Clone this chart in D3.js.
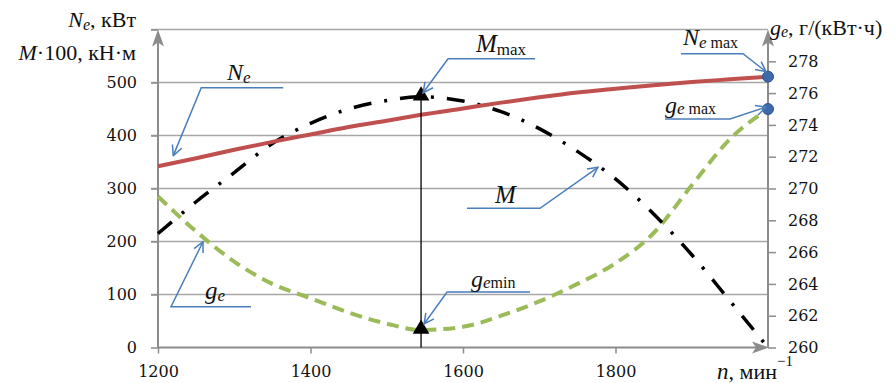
<!DOCTYPE html>
<html>
<head>
<meta charset="utf-8">
<script src="https://cdn.jsdelivr.net/npm/d3@7"></script>
<style>
  body { margin: 0; background: #fff; }
  svg { display: block; }
  .tick text { font-family: "DejaVu Serif", serif; font-size: 16px; fill: #111; }
  .lbl { font-family: "Liberation Serif", serif; fill: #111; }
</style>
</head>
<body>
<svg width="896" height="383"></svg>
<script>
// speed, min^-1
var nVals = [1200, 1250, 1300, 1350, 1400, 1450, 1500, 1545, 1600, 1650, 1700, 1750, 1800, 1850, 1900, 1950, 2000];
// power Ne, kW
var neVals = [342, 357, 373, 388, 402, 416, 428, 439, 451, 462, 472, 481, 488, 495, 501, 506, 511];
// torque M*100, kN*m
var mVals = [215, 275, 330, 385, 423, 450, 466, 473, 465, 445, 413, 370, 318, 252, 175, 88, 0];
// specific consumption ge, g/(kWh)
var geVals = [269.5, 267.3, 265.4, 264.0, 263.1, 262.2, 261.5, 261.1, 261.3, 262.0, 262.9, 264.0, 265.3, 267.2, 270.2, 273.1, 275.0];

var xTicks = [1200, 1400, 1600, 1800];
var leftTicks = [0, 100, 200, 300, 400, 500, 600];
var rightTicks = [260, 262, 264, 266, 268, 270, 272, 274, 276, 278];

var nOpt = 1545, nMax = 2000;

var svg = d3.select("svg");
var pLeft = 158, pRight = 768, pTop = 29.5, pBottom = 347.5;

var x = d3.scaleLinear().domain([1200, 2000]).range([pLeft, pRight]);
var yL = d3.scaleLinear().domain([0, 600]).range([pBottom, pTop]);
var yR = d3.scaleLinear().domain([260, 280]).range([pBottom, pTop]);

var gridColor = "#a6a6a6", axisColor = "#8c8c8c", blue = "#4a7ebb";

// arrow markers
var defs = svg.append("defs");
defs.append("marker")
    .attr("id", "arr")
    .attr("viewBox", "0 0 12 12")
    .attr("refX", 11).attr("refY", 6)
    .attr("markerWidth", 12).attr("markerHeight", 12)
    .attr("markerUnits", "userSpaceOnUse")
    .attr("orient", "auto")
  .append("path")
    .attr("d", "M1,1 L11,6 L1,11")
    .attr("fill", "none")
    .attr("stroke", blue)
    .attr("stroke-width", 1.5);

// grid lines
svg.append("g")
    .selectAll("line")
    .data(leftTicks.slice(1))
    .enter().append("line")
    .attr("x1", pLeft - 7).attr("x2", pRight)
    .attr("y1", function(d) { return yL(d); })
    .attr("y2", function(d) { return yL(d); })
    .attr("stroke", gridColor)
    .attr("stroke-width", 1.5);

// left axis
var gl = svg.append("g")
    .attr("transform", "translate(" + pLeft + ",0)")
    .call(d3.axisLeft(yL).tickValues(leftTicks).tickSize(7).tickPadding(14)
        .tickFormat(function(d) { return d == 600 ? "" : d; }));
// right axis
var gr = svg.append("g")
    .attr("transform", "translate(" + pRight + ",0)")
    .call(d3.axisRight(yR).tickValues(rightTicks).tickSize(8).tickPadding(12)
        .tickFormat(d3.format("d")));
// bottom axis
var gb = svg.append("g")
    .attr("transform", "translate(0," + pBottom + ")")
    .call(d3.axisBottom(x).tickValues(xTicks).tickSize(6).tickPadding(12)
        .tickFormat(d3.format("d")));

[gl, gr, gb].forEach(function(g) {
    g.select(".domain").remove();
    g.selectAll(".tick line").attr("stroke", axisColor).attr("stroke-width", 1.5);
});

// axis lines with arrows
svg.append("line").attr("x1", pLeft).attr("x2", pLeft).attr("y1", pBottom).attr("y2", pTop + 10)
    .attr("stroke", axisColor).attr("stroke-width", 2);
svg.append("line").attr("x1", pRight).attr("x2", pRight).attr("y1", pBottom).attr("y2", pTop + 10)
    .attr("stroke", axisColor).attr("stroke-width", 2);
svg.append("line").attr("x1", pLeft).attr("x2", pRight - 10).attr("y1", pBottom).attr("y2", pBottom)
    .attr("stroke", axisColor).attr("stroke-width", 2);
function head(px, py, dir) {
    var p;
    if (dir == "up") p = [[px, py], [px - 6, py + 17], [px, py + 13], [px + 6, py + 17]];
    else p = [[px, py], [px - 17, py - 6], [px - 13, py], [px - 17, py + 6]];
    svg.append("path").attr("d", "M" + p.join("L") + "Z").attr("fill", axisColor);
}
head(pLeft, pTop, "up");
head(pRight, pTop, "up");
head(pRight + 1, pBottom, "right");

// curves
var lineL = d3.line().x(function(d, i) { return x(nVals[i]); })
    .y(function(d) { return yL(d); }).curve(d3.curveMonotoneX);
var lineR = d3.line().x(function(d, i) { return x(nVals[i]); })
    .y(function(d) { return yR(d); }).curve(d3.curveMonotoneX);

svg.append("path").attr("d", lineR(geVals))
    .attr("fill", "none").attr("stroke", "#9bbb59").attr("stroke-width", 4)
    .attr("stroke-dasharray", "12,7");
svg.append("path").attr("d", lineL(mVals))
    .attr("fill", "none").attr("stroke", "#000").attr("stroke-width", 3.5)
    .attr("stroke-dasharray", "18,13,3,13");
svg.append("path").attr("d", lineL(neVals))
    .attr("fill", "none").attr("stroke", "#c0504d").attr("stroke-width", 4);

// optimum markers
var iOpt = nVals.indexOf(nOpt), iMax = nVals.indexOf(nMax);
svg.append("line")
    .attr("x1", x(nOpt)).attr("x2", x(nOpt))
    .attr("y1", yL(0)).attr("y2", yL(mVals[iOpt]))
    .attr("stroke", "#000").attr("stroke-width", 1.3);
var tri = d3.symbol().type(d3.symbolTriangle).size(120);
[[x(nOpt), yL(mVals[iOpt])], [x(nOpt), yR(geVals[iOpt])]].forEach(function(p) {
    svg.append("path").attr("d", tri).attr("transform", "translate(" + p[0] + "," + (p[1] - 1) + ")")
        .attr("fill", "#000");
});
[[x(nMax), yL(neVals[iMax])], [x(nMax), yR(geVals[iMax])]].forEach(function(p) {
    svg.append("circle").attr("cx", p[0]).attr("cy", p[1]).attr("r", 5.5)
        .attr("fill", "#3d6aa8").attr("stroke", "#2f528f").attr("stroke-width", 1);
});

// callouts: tip point, elbow offset, horizontal run
function callout(tx, ty, dx, dy, run) {
    var ex = tx + dx, ey = ty + dy;
    svg.append("path")
        .attr("d", "M" + (ex + run) + "," + ey + "L" + ex + "," + ey + "L" + tx + "," + ty)
        .attr("fill", "none").attr("stroke", blue).attr("stroke-width", 1.5)
        .attr("marker-end", "url(#arr)");
}
callout(x(1220), yL(362), 28, -68, 82);
callout(x(1259), yR(266.65), -32, 65, 80);
callout(x(nOpt) + 2, yL(mVals[iOpt]) - 4, 25, -34, 87);
callout(x(nOpt) + 3, yR(geVals[iOpt]) - 6, 23, -32, 83);
callout(x(1777), yL(340), -58, 41, -73);
callout(x(nMax) - 2, yL(neVals[iMax]) - 5, -23, -18, -62);
callout(x(nMax) - 2, yR(geVals[iMax]) - 2, -36, 12, -65);

// label helper: parts [text, size, italic, dy]
function label(px, py, parts, anchor) {
    var t = svg.append("text").attr("class", "lbl").attr("x", px).attr("y", py)
        .attr("text-anchor", anchor || "start");
    parts.forEach(function(p) {
        t.append("tspan").text(p[0]).style("font-size", p[1] + "px")
            .style("font-style", p[2] ? "italic" : "normal")
            .attr("dy", p[3] || 0);
    });
}
label(227, 80, [["N", 24, true], ["e", 17, true, 3]]);
label(205, 299, [["g", 25, true], ["e", 17, true, 2]]);
label(476, 52, [["M", 25, true], ["max", 17, false, 3]]);
label(471, 287, [["g", 24, true], ["e", 17, true, 1], ["min", 16, false]]);
label(495, 203, [["M", 25, true]]);
label(683, 45, [["N", 24, true], ["e", 17, true, 3], [" max", 16, false]]);
label(665, 113, [["g", 24, true], ["e", 17, true, 1], [" max", 16, false]]);

// axis titles
label(136, 27, [["N", 22, true], ["e", 16, true, 3], [", кВт", 22, false, -3]], "end");
label(136, 60, [["M", 22, true], ["·100, кН·м", 22, false]], "end");
label(770, 35, [["g", 22, true], ["e", 16, true, 2], [", г/(кВт·ч)", 22, false, -2]]);
label(717, 379, [["n", 23, true], [", мин", 22, false], ["−1", 15, false, -13]]);
</script>
</body>
</html>
